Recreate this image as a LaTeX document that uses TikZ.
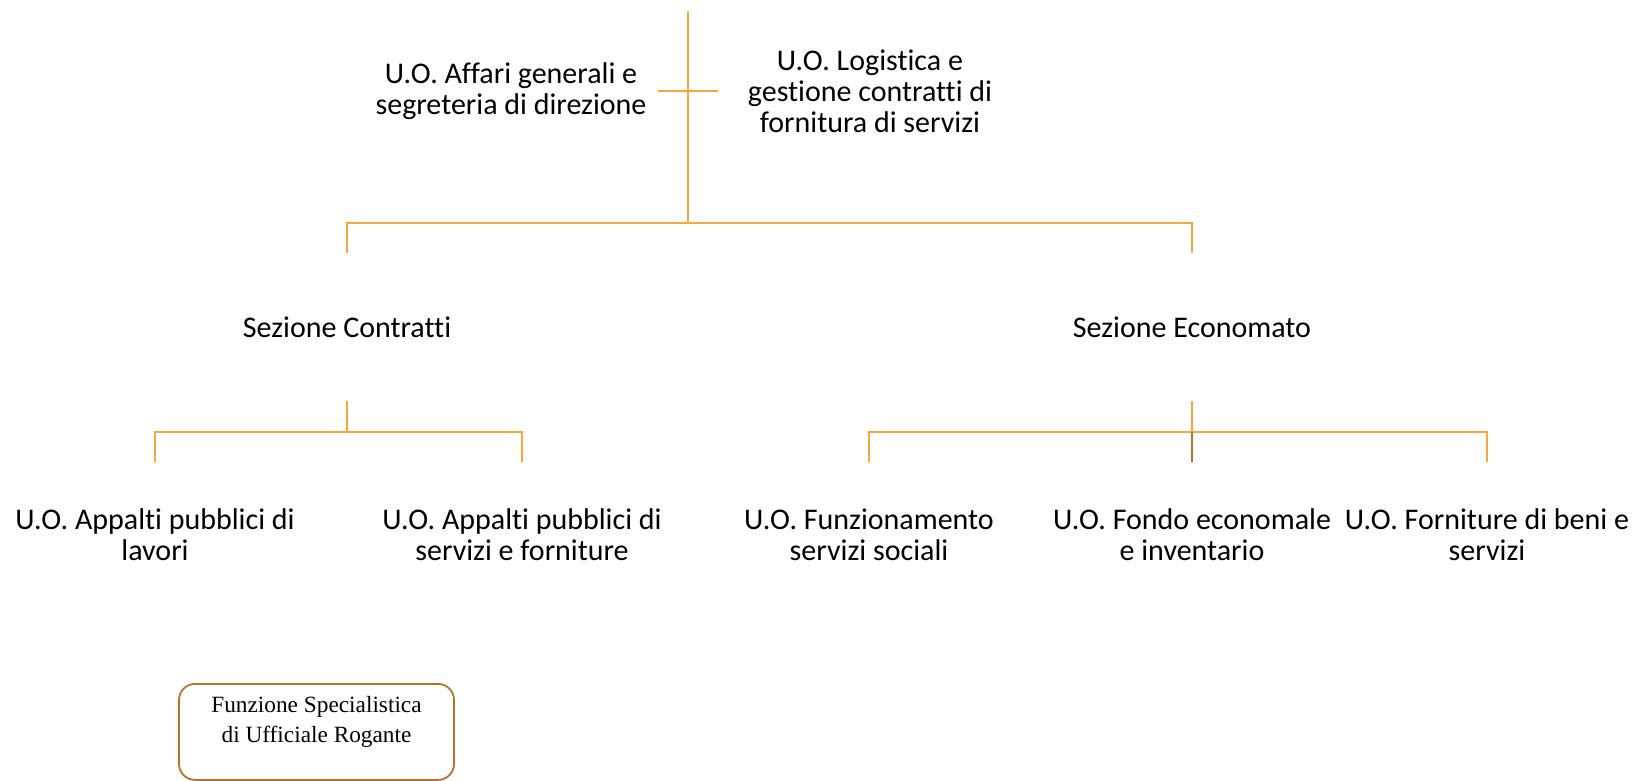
\documentclass[tikz,border=0pt]{standalone}
\usepackage{fontspec}
\setsansfont[RawFeature={-liga;-clig;-dlig;-calt}]{Carlito}
\newfontfamily\rogfont{Liberation Serif}
\usetikzlibrary{positioning,calc}

\definecolor{orgline}{RGB}{245,168,60}
\definecolor{orgdark}{RGB}{188,118,48}
\definecolor{rogline}{RGB}{184,112,46}

\begin{document}
\begin{tikzpicture}[x=1pt,y=-1pt,
		unit/.style={align=center,inner sep=0,font=\sffamily\fontsize{30}{31}\selectfont},
		conn/.style={draw=orgline,line width=1.6pt},
		rogbox/.style={draw=rogline,line width=1.8pt,rounded corners=16pt,minimum width=275,minimum height=96,inner sep=0}]
				\useasboundingbox (0,0) rectangle (1635,781);
				
				% Top level
				\coordinate (root) at (688,11);
				\node[unit,minimum width=294] (affari) at (511,91) {U.O. Affari generali e\\segreteria di direzione};
				\node[unit,minimum width=304] (logist) at (870,91) {U.O. Logistica e\\gestione contratti di\\fornitura di servizi};
				\draw[conn] (affari.east) -- (logist.west);
				
				% Sezioni
				\node[unit,minimum height=148] (contr) at (347,327) {Sezione Contratti};
				\node[unit,minimum height=148] (econ) at (1192,327) {Sezione Economato};
				\draw[conn] (root) -- (root |- 0,223) coordinate (bustop);
				\draw[conn] (contr.north) |- (bustop) -| (econ.north);
				
				% U.O. of Sezione Contratti
				\node[unit,minimum height=146] (lav) at (155,535) {U.O. Appalti pubblici di\\lavori};
				\node[unit,minimum height=146] (serv) at (522,535) {U.O. Appalti pubblici di\\servizi e forniture};
				\draw[conn] (contr.south) -- ++(0,31) coordinate (busL);
				\draw[conn] (lav.north) |- (busL) -| (serv.north);
				
				% U.O. of Sezione Economato
				\node[unit,minimum height=146] (funz) at (869,535) {U.O. Funzionamento\\servizi sociali};
				\node[unit,minimum height=146] (fondo) at (1192,535) {U.O. Fondo economale\\e inventario};
				\node[unit,minimum height=146] (forn) at (1487,535) {U.O. Forniture di beni e\\servizi};
				\draw[conn] (econ.south) -- ++(0,31) coordinate (busR);
				\draw[conn] (funz.north) |- (busR) -| (forn.north);
				\draw[conn,draw=orgdark] (busR) -- (fondo.north);
				
				% Ufficiale rogante
				\node[rogbox,anchor=north] (rog) at (316.5,683) {};
				\node[align=center,inner sep=0,font=\rogfont\fontsize{23.3}{30}\selectfont] (rogtxt) at (316.5,722) {Funzione Specialistica\\di Ufficiale Rogante};
				
			\end{tikzpicture}
\end{document}
